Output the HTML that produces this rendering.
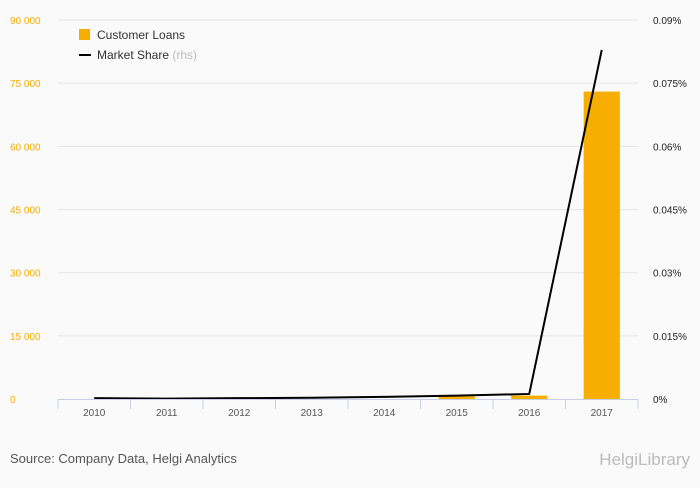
<!DOCTYPE html>
<html><head><meta charset="utf-8"><style>
body{margin:0;background:#fafafa;font-family:"Liberation Sans",sans-serif;}
svg text{font-family:"Liberation Sans",sans-serif;}
</style></head><body>
<svg id="c" width="700" height="483" viewBox="0 0 700 483">
<rect width="700" height="483" fill="#fafafa"/>
<g id="grid"></g><g id="bars"></g><g id="line"></g><g id="axes"></g>
<g>
<rect x="79" y="29" width="11" height="11" fill="#f8ae00"/>
<text x="97" y="39" font-size="12" fill="#333">Customer Loans</text>
<rect x="79" y="54" width="12" height="2" fill="#000"/>
<text x="97" y="59" font-size="12" fill="#333">Market Share <tspan fill="#bbb">(rhs)</tspan></text>
</g>
<text x="10" y="463" font-size="13" fill="#555">Source: Company Data, Helgi Analytics</text>
<text x="690" y="465" font-size="17" fill="#bbb" text-anchor="end">HelgiLibrary</text>
</svg>
<script>
const categories=["2010","2011","2012","2013","2014","2015","2016","2017"];
const loans=[0,0,0,0,0,640,800,73000];
const share=[0.0002,0.0001,0.0002,0.0003,0.0005,0.0008,0.0012,0.0829];
const leftTicks=[0,15000,30000,45000,60000,75000,90000];
const leftLabels=["0","15 000","30 000","45 000","60 000","75 000","90 000"];
const rightTicks=[0,0.015,0.03,0.045,0.06,0.075,0.09];
const rightLabels=["0%","0.015%","0.03%","0.045%","0.06%","0.075%","0.09%"];
const NS="http://www.w3.org/2000/svg";
const x0=58,x1=638,yTop=20,yBot=399;
const bw=(x1-x0)/categories.length;
const yL=v=>yBot-v/90000*(yBot-yTop);
const yR=v=>yBot-v/0.09*(yBot-yTop);
const xC=i=>x0+bw*(i+0.5);
function mk(tag,attrs,parent){const e=document.createElementNS(NS,tag);for(const k in attrs)e.setAttribute(k,attrs[k]);document.getElementById(parent).appendChild(e);return e;}
leftTicks.forEach((t,i)=>{
 if(i>0){const g=mk('line',{x1:x0,x2:x1,y1:yL(t),y2:yL(t),stroke:'#e6e6e6'},'grid');
 
 }
 const a=mk('text',{x:10,y:yL(t)+4,'font-size':10,fill:'#f8ae00'},'axes');a.textContent=leftLabels[i];
 
 
});
rightTicks.forEach((t,i)=>{
 const a=mk('text',{x:653,y:yR(t)+4,'font-size':10,fill:'#222'},'axes');a.textContent=rightLabels[i];
 
 
});
const ax=mk('line',{x1:x0,x2:x1,y1:yBot+0.5,y2:yBot+0.5,stroke:'#c5d0e6'},'axes');


for(let i=0;i<=categories.length;i++){
 const t=mk('line',{x1:x0+bw*i,x2:x0+bw*i,y1:yBot,y2:yBot+10,stroke:'#c5d0e6'},'axes');
 
 
}
categories.forEach((c,i)=>{
 const a=mk('text',{x:xC(i),y:416,'font-size':10,fill:'#555','text-anchor':'middle'},'axes');a.textContent=c;
 
 
 const b=mk('rect',{x:xC(i)-bw/4,y:yL(loans[i]),width:bw/2,height:yBot-yL(loans[i]),fill:'#f8ae00'},'bars');
 
 
});
const p=mk('polyline',{points:share.map((v,i)=>xC(i)+','+yR(v)).join(' '),fill:'none',stroke:'#000','stroke-width':2},'line');


</script>
</body></html>
